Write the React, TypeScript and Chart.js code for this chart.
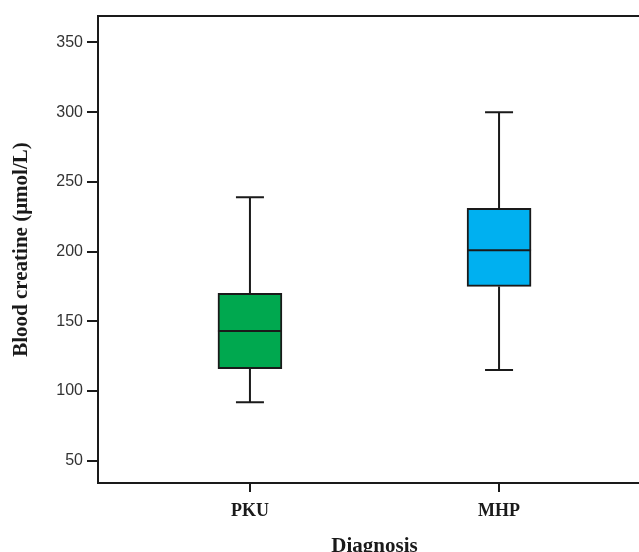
import React, { useEffect, useRef } from "react";
import { Chart, registerables } from "chart.js";

Chart.register(...registerables);

const categories = ["PKU", "MHP"];
const mins = [92, 115];
const q1s = [116, 175];
const medians = [143, 201];
const q3s = [170, 231];
const maxs = [239, 300];
const fills = ["#00A84F", "#00B0F0"];
const yTickValues = [50, 100, 150, 200, 250, 300, 350];

const INK = "#1a1a1a";

const boxPlugin = {
  id: "boxParts",
  afterDatasetsDraw(chart: any) {
    const { ctx, scales } = chart;
    const xs = scales.x;
    const ys = scales.y;
    ctx.save();
    ctx.strokeStyle = INK;
    ctx.lineWidth = 2;
    categories.forEach((_, i) => {
      const cx = xs.getPixelForValue(i + 1);
      const half = 32;
      const cap = 14;
      const yMin = ys.getPixelForValue(mins[i]);
      const yQ1 = ys.getPixelForValue(q1s[i]);
      const yMed = ys.getPixelForValue(medians[i]);
      const yQ3 = ys.getPixelForValue(q3s[i]);
      const yMax = ys.getPixelForValue(maxs[i]);
      ctx.beginPath();
      ctx.moveTo(cx, yQ3);
      ctx.lineTo(cx, yMax);
      ctx.moveTo(cx - cap, yMax);
      ctx.lineTo(cx + cap, yMax);
      ctx.moveTo(cx, yQ1);
      ctx.lineTo(cx, yMin);
      ctx.moveTo(cx - cap, yMin);
      ctx.lineTo(cx + cap, yMin);
      ctx.moveTo(cx - half, yMed);
      ctx.lineTo(cx + half, yMed);
      ctx.stroke();
    });
    const a = chart.chartArea;
    ctx.beginPath();
    ctx.moveTo(a.left, a.top);
    ctx.lineTo(a.right, a.top);
    ctx.lineTo(a.right, a.bottom);
    ctx.stroke();
    ctx.restore();
  },
};

export default function App() {
  const ref = useRef<HTMLCanvasElement | null>(null);
  useEffect(() => {
    if (!ref.current) return;
    const chart = new Chart(ref.current, {
      type: "bar",
      data: {
        datasets: [
          {
            data: categories.map((_, i) => ({ x: i + 1, y: [q1s[i], q3s[i]] })) as any,
            backgroundColor: fills,
            borderColor: INK,
            borderWidth: 2,
            borderSkipped: false,
            barThickness: 64,
          },
        ],
      },
      options: {
        responsive: false,
        animation: false,
        layout: { padding: { top: 16, right: 9, left: 0, bottom: 0 } },
        plugins: { legend: { display: false }, tooltip: { enabled: false } },
        scales: {
          x: {
            type: "linear",
            offset: false,
            min: 0.39,
            max: 2.61,
            afterFit: (s: any) => {
              s.height = 77;
            },
            afterBuildTicks: (s: any) => {
              s.ticks = categories.map((_, i) => ({ value: i + 1 }));
            },
            ticks: {
              callback: (v: any) => categories[Number(v) - 1] ?? "",
              font: { family: "Liberation Serif", size: 18, weight: "bold" },
              color: "#1a1a1a",
              padding: 9,
              maxRotation: 0,
            },
            grid: { offset: false, drawOnChartArea: false, drawTicks: true, tickLength: 9, color: INK, lineWidth: 2 },
            border: { display: true, color: INK, width: 2 },
            title: {
              display: true,
              text: "Diagnosis",
              font: { family: "Liberation Serif", size: 21, weight: "bold" },
              color: "#1a1a1a",
              padding: { top: 0, bottom: 1 },
            },
          },
          y: {
            type: "linear",
            min: 34,
            max: 369,
            afterFit: (s: any) => {
              s.width = 98;
            },
            afterBuildTicks: (s: any) => {
              s.ticks = yTickValues.map((v) => ({ value: v }));
            },
            ticks: {
              font: { family: "Liberation Sans", size: 16 },
              color: "#333333",
              padding: 4,
            },
            grid: { drawOnChartArea: false, drawTicks: true, tickLength: 11, color: INK, lineWidth: 2 },
            border: { display: true, color: INK, width: 2 },
            title: {
              display: true,
              text: "Blood creatine (μmol/L)",
              font: { family: "Liberation Serif", size: 21, weight: "bold" },
              color: "#1a1a1a",
              padding: { top: 9, bottom: 0 },
            },
          },
        },
      },
      plugins: [boxPlugin],
    });
    return () => chart.destroy();
  }, []);
  return (
    <div style={{ position: "fixed", left: 0, top: 0, width: 639, height: 552, overflow: "hidden", background: "#fff" }}>
      <canvas ref={ref} width={660} height={560} style={{ display: "block", width: 660, height: 560 }} />
    </div>
  );
}
